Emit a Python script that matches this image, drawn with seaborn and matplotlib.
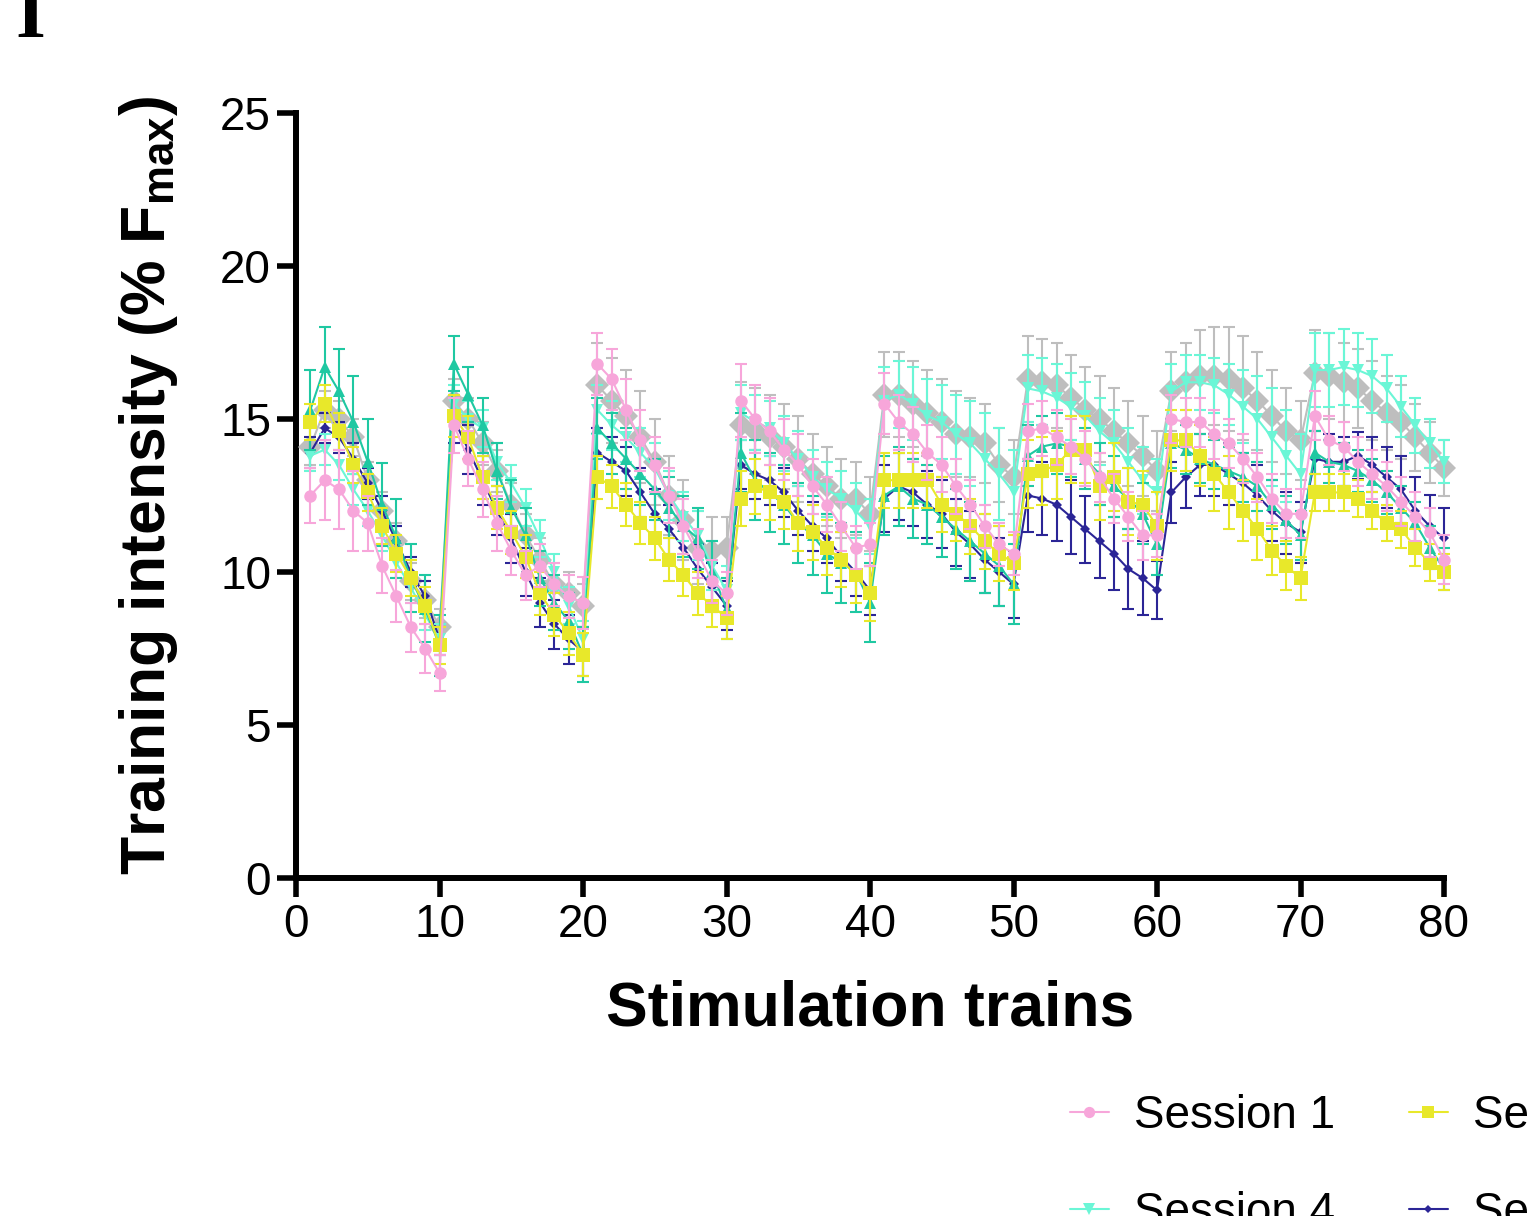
import matplotlib
matplotlib.use("Agg")
import matplotlib.pyplot as plt
from matplotlib.lines import Line2D
import seaborn as sns

# stimulation train index (8 blocks of 10 trains)
trains = list(range(1, 81))

session_names = ["Session 1", "Session 2", "Session 3", "Session 4", "Session 5", "Session 6"]

s1_mean = [12.5, 13.0, 12.7, 12.0, 11.6, 10.2, 9.2, 8.2, 7.5, 6.7,
           14.8, 13.7, 12.7, 11.6, 10.7, 9.9, 10.2, 9.6, 9.2, 9.0,
           16.8, 16.3, 15.3, 14.3, 13.5, 12.5, 11.5, 10.6, 9.7, 9.3,
           15.6, 15.0, 14.6, 14.0, 13.5, 12.8, 12.2, 11.5, 10.8, 10.9,
           15.5, 14.9, 14.5, 13.9, 13.5, 12.8, 12.2, 11.5, 10.9, 10.6,
           14.6, 14.7, 14.4, 14.1, 13.7, 13.1, 12.4, 11.8, 11.2, 11.2,
           15.0, 14.9, 14.9, 14.5, 14.2, 13.7, 13.1, 12.4, 11.9, 11.9,
           15.1, 14.3, 14.1, 13.6, 13.2, 12.8, 12.3, 11.8, 11.3, 10.4]
s1_sem = [0.9, 1.3, 1.3, 1.3, 0.9, 0.9, 0.85, 0.8, 0.8, 0.6,
          0.9, 0.9, 0.9, 0.9, 0.8, 0.8, 0.7, 0.7, 0.7, 0.85,
          1.0, 1.0, 1.0, 1.0, 0.9, 0.9, 0.9, 0.8, 0.7, 0.7,
          1.2, 1.1, 1.1, 1.0, 1.0, 0.9, 0.9, 0.8, 0.7, 0.7,
          1.0, 0.9, 0.9, 0.9, 0.9, 0.9, 0.8, 0.7, 0.7, 0.7,
          0.9, 0.9, 0.9, 0.9, 0.9, 0.8, 0.8, 0.8, 0.8, 0.7,
          0.8, 0.8, 0.8, 0.8, 0.8, 0.8, 0.8, 0.8, 0.8, 0.8,
          0.8, 0.8, 0.8, 0.8, 0.8, 0.8, 0.8, 0.8, 0.8, 0.8]

s2_mean = [14.9, 15.5, 14.6, 13.5, 12.6, 11.5, 10.6, 9.8, 8.9, 7.6,
           15.1, 14.4, 13.1, 12.1, 11.3, 10.5, 9.3, 8.6, 8.0, 7.3,
           13.1, 12.8, 12.2, 11.6, 11.1, 10.4, 9.9, 9.3, 8.9, 8.5,
           12.4, 12.8, 12.6, 12.3, 11.6, 11.3, 10.8, 10.4, 9.9, 9.3,
           13.0, 13.0, 13.0, 13.0, 12.2, 11.9, 11.5, 11.0, 10.6, 10.3,
           13.2, 13.3, 13.5, 14.0, 14.0, 12.8, 13.1, 12.3, 12.2, 11.5,
           14.3, 14.3, 13.8, 13.2, 12.6, 12.0, 11.4, 10.7, 10.2, 9.8,
           12.6, 12.6, 12.6, 12.4, 12.0, 11.6, 11.4, 10.8, 10.3, 10.0]
s2_sem = [0.6, 0.6, 0.6, 0.6, 0.6, 0.6, 0.6, 0.6, 0.6, 0.6,
          0.7, 0.7, 0.7, 0.7, 0.7, 0.7, 0.7, 0.7, 0.7, 0.7,
          0.7, 0.7, 0.7, 0.7, 0.7, 0.7, 0.7, 0.7, 0.7, 0.7,
          0.9, 0.9, 0.9, 0.9, 0.9, 0.9, 0.9, 0.9, 0.9, 0.9,
          0.9, 0.9, 0.9, 0.9, 0.9, 0.9, 0.9, 0.9, 0.9, 0.9,
          1.1, 1.1, 1.1, 1.1, 1.1, 1.1, 1.1, 1.1, 1.1, 1.1,
          1.0, 1.0, 1.0, 1.2, 1.2, 1.0, 1.0, 0.8, 0.8, 0.7,
          0.6, 0.6, 0.6, 0.6, 0.6, 0.6, 0.6, 0.6, 0.6, 0.6]

s3_mean = [15.3, 16.7, 15.9, 14.9, 13.6, 12.2, 11.1, 9.8, 8.8, 7.6,
           16.8, 15.8, 14.8, 13.3, 12.1, 11.2, 9.8, 9.0, 8.4, 7.3,
           14.7, 14.2, 13.7, 13.2, 12.7, 12.1, 11.5, 11.1, 10.0, 8.8,
           13.9, 13.0, 12.6, 12.2, 11.6, 11.2, 10.6, 10.3, 10.0, 9.0,
           12.5, 12.8, 12.4, 12.2, 11.8, 11.4, 11.0, 10.6, 10.2, 9.6,
           13.8, 14.1, 14.2, 14.1, 13.7, 13.2, 12.8, 12.4, 11.9, 10.9,
           14.2, 14.0, 13.7, 13.5, 13.3, 13.1, 12.8, 12.2, 11.7, 11.2,
           13.9, 13.6, 13.5, 13.3, 13.0, 12.6, 12.1, 11.6, 10.8, 10.1]
s3_sem = [1.3, 1.3, 1.4, 1.5, 1.4, 1.35, 1.3, 1.1, 1.1, 1.0,
          0.9, 0.9, 0.9, 0.9, 0.9, 0.9, 0.9, 0.9, 0.9, 0.9,
          1.0, 1.0, 1.0, 1.0, 1.0, 1.0, 1.0, 1.0, 1.0, 1.0,
          1.3, 1.3, 1.3, 1.3, 1.3, 1.3, 1.3, 1.3, 1.3, 1.3,
          1.3, 1.3, 1.3, 1.3, 1.3, 1.3, 1.3, 1.3, 1.3, 1.3,
          1.0, 1.0, 1.0, 1.0, 1.0, 1.0, 1.0, 1.0, 1.0, 1.0,
          0.8, 0.8, 0.8, 0.8, 0.8, 0.8, 0.8, 0.8, 0.8, 0.8,
          0.7, 0.7, 0.7, 0.7, 0.7, 0.7, 0.7, 0.7, 0.7, 0.7]

s4_mean = [13.8, 14.0, 13.5, 12.7, 12.0, 11.2, 10.3, 9.5, 8.6, 7.8,
           15.5, 15.0, 14.7, 13.6, 12.9, 12.1, 11.1, 10.0, 8.9, 7.8,
           15.3, 14.8, 14.4, 13.9, 13.4, 12.5, 11.8, 11.2, 10.2, 9.4,
           15.2, 14.9, 14.7, 14.2, 13.7, 13.1, 12.7, 12.4, 12.0, 11.5,
           15.6, 15.8, 15.5, 15.1, 14.9, 14.5, 14.2, 13.7, 13.2, 12.6,
           16.0, 15.9, 15.7, 15.4, 15.1, 14.6, 14.2, 13.6, 13.0, 12.6,
           15.9, 16.2, 16.2, 16.1, 15.8, 15.4, 15.0, 14.4, 13.8, 13.2,
           16.6, 16.6, 16.7, 16.6, 16.4, 16.0, 15.4, 14.8, 14.2, 13.6]
s4_sem = [0.5, 0.5, 0.5, 0.5, 0.5, 0.5, 0.5, 0.5, 0.5, 0.5,
          0.6, 0.6, 0.6, 0.6, 0.6, 0.6, 0.6, 0.6, 0.6, 0.6,
          0.8, 0.8, 0.8, 0.8, 0.8, 0.8, 0.8, 0.8, 0.8, 0.8,
          0.9, 0.9, 0.9, 0.9, 0.9, 0.9, 0.9, 0.9, 0.9, 0.9,
          1.1, 1.1, 1.2, 1.2, 1.2, 1.3, 1.4, 1.5, 1.5, 1.4,
          1.1, 1.1, 1.1, 1.1, 1.1, 1.1, 1.1, 1.1, 1.1, 1.1,
          0.9, 0.9, 0.9, 0.9, 1.0, 1.2, 1.4, 1.6, 1.5, 1.3,
          1.2, 1.2, 1.25, 1.2, 1.2, 1.1, 1.0, 0.9, 0.8, 0.7]

s5_mean = [13.9, 14.7, 14.4, 13.7, 12.9, 12.0, 11.0, 10.0, 9.2, 7.8,
           15.0, 14.0, 13.0, 12.0, 11.1, 10.0, 9.0, 8.3, 7.8, 7.4,
           13.9, 13.6, 13.3, 12.6, 11.9, 11.4, 10.8, 10.1, 9.5, 8.9,
           13.5, 13.2, 13.0, 12.6, 12.0, 11.5, 11.1, 10.5, 10.0, 9.4,
           12.4, 12.8, 12.6, 12.2, 11.9, 11.3, 10.9, 10.4, 10.0, 9.6,
           12.5, 12.4, 12.2, 11.8, 11.4, 11.0, 10.6, 10.1, 9.8, 9.4,
           12.6, 13.1, 13.5, 13.5, 13.2, 12.9, 12.5, 12.0, 11.6, 11.3,
           13.7, 13.6, 13.6, 13.8, 13.5, 13.1, 12.7, 12.0, 11.5, 11.1]
s5_sem = [0.5, 0.5, 0.5, 0.5, 0.5, 0.5, 0.5, 0.5, 0.5, 0.5,
          0.8, 0.8, 0.8, 0.8, 0.8, 0.8, 0.8, 0.8, 0.8, 0.8,
          0.8, 0.8, 0.8, 0.8, 0.8, 0.8, 0.8, 0.8, 0.8, 0.8,
          0.8, 0.8, 0.8, 0.8, 0.8, 0.8, 0.8, 0.8, 0.8, 0.8,
          1.1, 1.1, 1.1, 1.1, 1.1, 1.1, 1.1, 1.1, 1.1, 1.1,
          1.2, 1.2, 1.2, 1.2, 1.1, 1.2, 1.2, 1.3, 1.2, 0.95,
          1.0, 1.0, 1.0, 1.0, 1.0, 1.0, 1.0, 1.0, 1.0, 1.0,
          0.9, 0.9, 0.8, 0.76, 0.9, 1.0, 1.1, 1.1, 1.03, 1.0]

s6_mean = [14.1, 15.3, 15.0, 14.4, 13.0, 12.0, 11.0, 9.7, 9.1, 8.2,
           15.6, 15.0, 14.2, 13.3, 12.2, 11.2, 10.4, 9.6, 9.3, 8.9,
           16.1, 15.6, 15.1, 14.4, 13.6, 12.5, 11.7, 10.8, 10.7, 10.8,
           14.8, 14.6, 14.4, 14.1, 13.7, 13.2, 12.8, 12.4, 12.4, 11.9,
           15.8, 15.8, 15.5, 15.2, 14.9, 14.5, 14.4, 14.2, 13.5, 13.1,
           16.3, 16.2, 16.1, 15.7, 15.3, 15.0, 14.6, 14.2, 13.8, 13.3,
           15.9, 16.2, 16.4, 16.4, 16.3, 16.0, 15.6, 15.1, 14.6, 14.3,
           16.5, 16.4, 16.2, 16.0, 15.6, 15.2, 14.9, 14.4, 13.9, 13.4]
s6_sem = [0.6, 0.6, 0.6, 0.6, 0.6, 0.6, 0.6, 0.6, 0.6, 0.6,
          0.7, 0.7, 0.7, 0.7, 0.7, 0.7, 0.7, 0.7, 0.7, 0.7,
          1.4, 1.4, 1.5, 1.5, 1.4, 1.3, 1.3, 1.2, 1.1, 1.0,
          1.4, 1.4, 1.4, 1.4, 1.4, 1.3, 1.3, 1.3, 1.2, 1.2,
          1.4, 1.4, 1.4, 1.4, 1.4, 1.4, 1.3, 1.3, 1.2, 1.2,
          1.4, 1.4, 1.4, 1.4, 1.4, 1.4, 1.4, 1.4, 1.3, 1.3,
          1.3, 1.3, 1.5, 1.6, 1.7, 1.7, 1.6, 1.5, 1.4, 1.3,
          1.4, 1.4, 1.3, 1.3, 1.3, 1.2, 1.2, 1.1, 1.0, 0.9]

means = [s1_mean, s2_mean, s3_mean, s4_mean, s5_mean, s6_mean]
sems = [s1_sem, s2_sem, s3_sem, s4_sem, s5_sem, s6_sem]
colors = ["#F7A6DA", "#E8E82A", "#1FC8A2", "#6BF6D6", "#2B2596", "#BEBEBE"]
markers = ["o", "s", "^", "v", "D", "D"]
marker_sizes = [9, 10, 9, 9, 5, 12]

sns.set_style("ticks")
plt.rcParams['font.family'] = ['Liberation Sans', 'DejaVu Sans']
plt.rcParams['mathtext.fontset'] = 'custom'
plt.rcParams['mathtext.rm'] = 'Liberation Sans:bold'
plt.rcParams['mathtext.bf'] = 'Liberation Sans:bold'
for key in ['text.color', 'axes.labelcolor', 'xtick.color', 'ytick.color', 'axes.edgecolor']:
    plt.rcParams[key] = 'black'

fig = plt.figure(figsize=(15.27, 12.16), dpi=100)
ax = fig.add_axes([296 / 1527, 1 - 878 / 1216, (1444 - 296) / 1527, (878 - 113) / 1216])

# session 1 drawn on top, so go backwards
for i in reversed(range(6)):
    eb = ax.errorbar(trains, means[i], yerr=sems[i], fmt='none', ecolor=colors[i],
                     elinewidth=1.5, capsize=4.5, capthick=1.5, zorder=2 + (6 - i))
    for art in eb.lines[1] + eb.lines[2]:
        art.set_clip_on(False)
    sns.lineplot(x=trains, y=means[i], ax=ax, color=colors[i], marker=markers[i],
                 markersize=marker_sizes[i], markeredgewidth=0, linewidth=1.5,
                 legend=False, zorder=2.5 + (6 - i), clip_on=False)

ax.set_xlim(0, 80)
ax.set_ylim(0, 25)
ax.set_xticks(range(0, 81, 10))
ax.set_yticks(range(0, 26, 5))
sns.despine(ax=ax)
for side in ["left", "bottom"]:
    ax.spines[side].set_linewidth(4.3)
ax.tick_params(axis='both', direction='out', length=14, width=4, labelsize=33, pad=4)

ax.set_xlabel("Stimulation trains", fontsize=45, fontweight='bold')
ax.set_ylabel("Training intensity (% $\\mathbf{F_{max}}$)", fontsize=45, fontweight='bold')
ax.xaxis.set_label_coords(0.5, -0.133)
ax.yaxis.set_label_coords(-0.101, 0.514)

handles = [Line2D([0], [0], color=colors[i], marker=markers[i], markersize=marker_sizes[i] * 0.9,
                  markeredgewidth=0, linewidth=1.5) for i in range(6)]
# legend fills column by column; reorder so rows read Session 1-3, then 4-6
order = [0, 3, 1, 4, 2, 5]
fig.legend([handles[k] for k in order], [session_names[k] for k in order], ncol=3,
           loc='upper left', bbox_to_anchor=(1070 / 1527, 1 - 1094 / 1216), frameon=False,
           fontsize=33, handlelength=0.85, handletextpad=0.55, columnspacing=1.6,
           labelspacing=1.15, borderpad=0, borderaxespad=0)

fig.text(15 / 1527, 1 - 37 / 1216, "I", fontfamily='Liberation Serif', fontweight='bold',
         fontsize=55, va='baseline', ha='left')

fig.savefig("out.png", dpi=100)
